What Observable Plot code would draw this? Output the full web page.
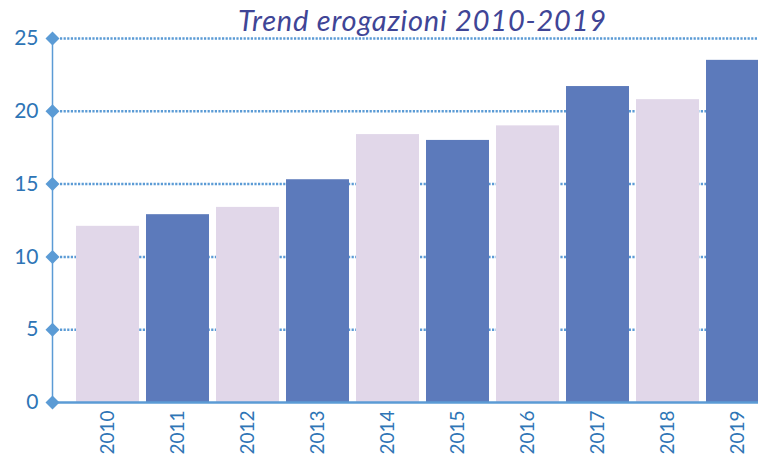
<!DOCTYPE html>
<html>
<head>
<meta charset="utf-8">
<script src="https://cdn.jsdelivr.net/npm/d3@7"></script>
<script src="https://cdn.jsdelivr.net/npm/@observablehq/plot@0.6"></script>
<style>
  html, body { margin: 0; padding: 0; background: #fff; overflow: hidden; }
  svg { overflow: hidden; }
  .title text { letter-spacing: 0.8px; }
</style>
</head>
<body>
<div id="chart"></div>
<script>
const title = "Trend erogazioni 2010-2019";
const years = ["2010","2011","2012","2013","2014","2015","2016","2017","2018","2019"];
const values = [12.1, 12.9, 13.4, 15.3, 18.4, 18.0, 19.0, 21.7, 20.8, 23.5];
const shades = ["light","dark","light","dark","light","dark","light","dark","light","dark"];
const yTicks = [0, 5, 10, 15, 20, 25];

const data = years.map((y, i) => ({year: y, value: values[i], shade: shades[i]}));
const blue = "#5b9bd5";
const labelColor = "#2e75b6";

const chart = Plot.plot({
  width: 758,
  height: 462,
  marginLeft: 52,
  marginRight: 0,
  marginTop: 38,
  marginBottom: 60,
  style: {background: "#fff", fontFamily: "Lato, 'DejaVu Sans', sans-serif"},
  x: {domain: years, range: [52, 793], paddingInner: 0.1, paddingOuter: 0.32, label: null},
  y: {domain: [0, 25], ticks: yTicks, label: null},
  color: {domain: ["light","dark"], range: ["#e1d7e9", "#5c7abb"]},
  marks: [
    Plot.ruleY(yTicks.filter(d => d > 0), {stroke: blue, strokeWidth: 2.5, strokeDasharray: "2.2,1.4", insetLeft: 8}),
    Plot.barY(data, {x: "year", y: "value", fill: "shade"}),
    Plot.ruleY([0], {stroke: blue, strokeWidth: 2.5}),
    Plot.frame({anchor: "left", stroke: blue, strokeWidth: 1.5}),
    Plot.dot(yTicks, {y: d => d, frameAnchor: "left", symbol: "square", rotate: 45, r: 5.6, fill: blue, stroke: null}),
    Plot.axisY({ticks: yTicks, tickSize: 0, tickPadding: 14, fontSize: 21, fill: labelColor, label: null}),
    Plot.axisX({tickSize: 0, tickPadding: 8, tickRotate: -90, fontSize: 19, fill: labelColor, label: null}),
    Plot.text([title], {frameAnchor: "top", dx: 17, dy: -8, lineAnchor: "bottom", fontSize: 29, fontStyle: "italic", fill: "#3f4596", className: "title"})
  ]
});
document.getElementById("chart").appendChild(chart);
</script>
</body>
</html>
